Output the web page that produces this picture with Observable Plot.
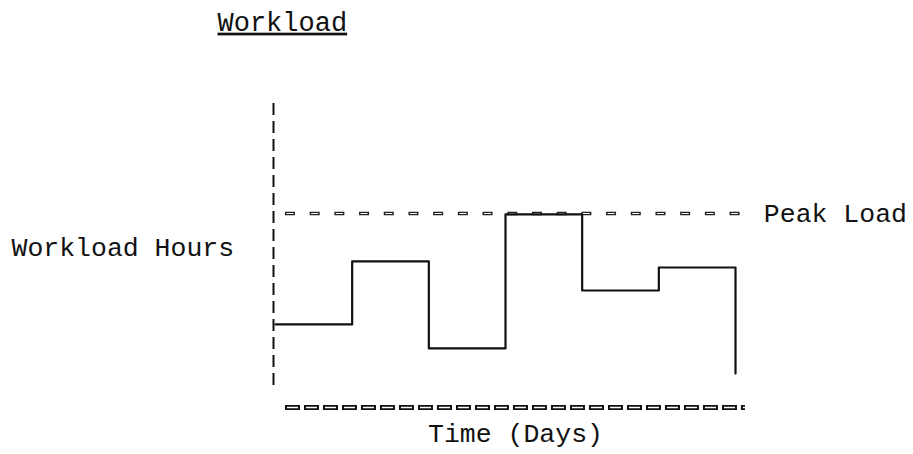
<!DOCTYPE html>
<html>
<head>
<meta charset="utf-8">
<script src="https://cdn.jsdelivr.net/npm/d3@7"></script>
<script src="https://cdn.jsdelivr.net/npm/@observablehq/plot@0.6"></script>
<style>
  html, body { margin: 0; padding: 0; background: #fff; }
  #chart svg text.title-text { text-decoration: underline; }
</style>
</head>
<body>
<div id="chart"></div>
<script>
// Data
const days = [0, 1, 2, 3, 4, 5, 6];
const workloadHours = [4.26, 7.49, 3.03, 9.9, 6.0, 7.18, 1.74];
const peakLoad = [9.95];
const yAxisExtent = [1.13, 15.74];   // extent of the dashed vertical axis (hours)
const xAxisExtent = [0.13, 6.13];    // extent of the dashed time axis (days)
const peakExtent = [0.13, 6.2];      // extent of the peak-load line (days)
const titleText = ["Workload"];
const yLabel = ["Workload Hours"];
const xLabel = ["Time (Days)"];
const peakLabel = ["Peak Load"];

const series = days.map((d, i) => ({day: d, hours: workloadHours[i]}));
const font = "Liberation Mono, Courier New, monospace";

const chart = Plot.plot({
  width: 913,
  height: 454,
  marginLeft: 275,
  marginRight: 178,
  marginTop: 95,
  marginBottom: 47,
  x: {domain: [0, 6], axis: null},
  y: {domain: [0, 16], axis: null},
  style: {fontFamily: font, fontSize: "26.5px", background: "#fff", color: "#111"},
  marks: [
    // dashed vertical axis
    Plot.ruleX([0], {y1: yAxisExtent[0], y2: yAxisExtent[1], dx: -2, stroke: "#111", strokeWidth: 2, strokeDasharray: "12,6"}),
    // dashed horizontal time axis (hollow dash look)
    Plot.ruleY([0], {x1: xAxisExtent[0], x2: xAxisExtent[1], stroke: "#111", strokeWidth: 5, strokeDasharray: "15,4"}),
    Plot.ruleY([0], {x1: xAxisExtent[0], x2: xAxisExtent[1], stroke: "#fff", strokeWidth: 1.6, strokeDasharray: "11,8", strokeDashoffset: -2}),
    // peak load line
    Plot.ruleY(peakLoad, {x1: peakExtent[0], x2: peakExtent[1], stroke: "#222", strokeWidth: 3.5, strokeDasharray: "10,14.7"}),
    Plot.ruleY(peakLoad, {x1: peakExtent[0], x2: peakExtent[1], stroke: "#fff", strokeWidth: 1.2, strokeDasharray: "7,17.7", strokeDashoffset: -1.5}),
    // workload step line
    Plot.line(series, {x: "day", y: "hours", curve: "step-after", stroke: "#111", strokeWidth: 2.2}),
    // labels
    Plot.text(peakLabel, {x: peakExtent[1], y: peakLoad[0], text: d => d, textAnchor: "start", dx: 13, fontSize: 26.5, fill: "#111"}),
    Plot.text(yLabel, {frameAnchor: "left", text: d => d, textAnchor: "start", dx: -264, dy: -4, fontSize: 26.5, fill: "#111"}),
    Plot.text(xLabel, {frameAnchor: "bottom", text: d => d, dx: 10, dy: 34, fontSize: 26.5, fill: "#111"}),
    Plot.text(titleText, {frameAnchor: "top-left", text: d => d, textAnchor: "start", dx: -58, dy: -84, fontSize: 27, fill: "#111"})
  ]
});

document.getElementById("chart").appendChild(chart);
d3.select(chart).selectAll("text").filter(function() { return this.textContent === titleText[0]; })
  .attr("class", "title-text")
  .style("text-decoration", "underline");
</script>
</body>
</html>
